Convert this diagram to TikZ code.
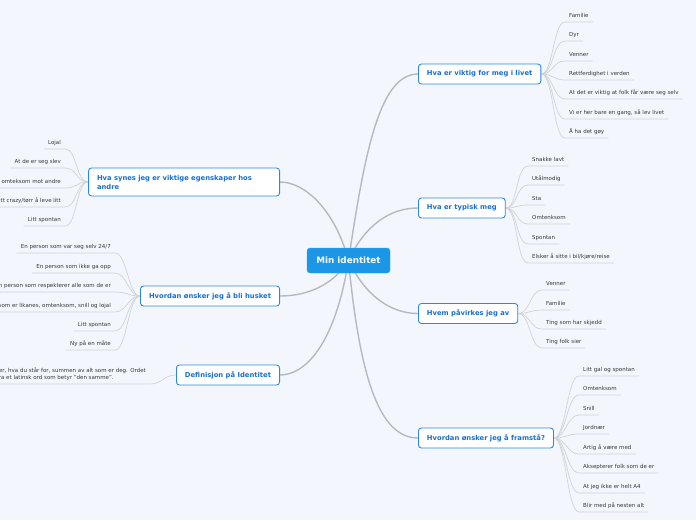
\documentclass[tikz,border=0pt]{standalone}
\usepackage{fontspec}
\setmainfont{DejaVu Sans}
\usepackage{xcolor}
\definecolor{paperbg}{HTML}{F3F6FD}
\definecolor{rootblue}{HTML}{1C96E6}
\definecolor{edgeblue}{HTML}{2C88DE}
\definecolor{topicblue}{HTML}{1A6FD0}
\definecolor{trunkgray}{HTML}{B9B9BC}
\definecolor{twiggray}{HTML}{D2D3D6}
\definecolor{leafink}{HTML}{383838}
\pgfdeclarelayer{paper}
\pgfdeclarelayer{background}
\pgfsetlayers{paper,background,main}
\tikzset{
    % Shapes
    root/.style={rectangle, rounded corners=3pt, fill=rootblue, draw=rootblue!85!white,
                 text=white, font=\bfseries\fontsize{8.8}{10}\selectfont,
                 minimum width=83pt, minimum height=25pt},
    topic/.style={rectangle, rounded corners=3pt, fill=white, draw=edgeblue, line width=0.9pt,
                  text=topicblue, font=\bfseries\fontsize{6.8}{9}\selectfont,
                  minimum height=20pt, inner xsep=8.5pt},
    leaf/.style={inner xsep=4pt, inner ysep=3pt, text height=4.2pt, text depth=1.3pt,
                 text=leafink, font=\fontsize{5.5}{7}\selectfont},
    % Flow
    trunk/.style={line width=1.4pt, trunkgray},
    twig/.style={line width=0.7pt, twiggray}
}
\begin{document}
\begin{tikzpicture}[x=1pt, y=-1pt]
\useasboundingbox (0,0) rectangle (696,520);
\begin{pgfonlayer}{paper}
\fill[paperbg] (0,0) rectangle (696,520);
\end{pgfonlayer}

\node[root] (identitet) at (348.5,260.5) {Min identitet};

% right side
\node[topic, anchor=west] (viktig) at (418,74) {Hva er viktig for meg i livet};
\node[topic, anchor=west] (typisk) at (418,208) {Hva er typisk meg};
\node[topic, anchor=west] (pavirk) at (418,313.5) {Hvem påvirkes jeg av};
\node[topic, anchor=west] (framsta) at (418,438) {Hvordan ønsker jeg å framstå?};

% left side
\node[topic, anchor=east, text width=174pt, align=left, minimum height=28pt] (egensk) at (280,182)
    {Hva synes jeg er viktige egenskaper hos\\ andre};
\node[topic, anchor=east] (husket) at (280,296) {Hvordan ønsker jeg å bli husket};
\node[topic, anchor=east] (defin) at (280,375) {Definisjon på Identitet};

\node[leaf, anchor=south west] (vik1) at (565,22) {Familie};
\node[leaf, anchor=south west] (vik2) at (565,41) {Dyr};
\node[leaf, anchor=south west] (vik3) at (565,61) {Venner};
\node[leaf, anchor=south west] (vik4) at (565,80) {Rettferdighet i verden};
\node[leaf, anchor=south west] (vik5) at (565,99) {At det er viktig at folk får være seg selv};
\node[leaf, anchor=south west] (vik6) at (565,119) {Vi er her bare en gang, så lev livet};
\node[leaf, anchor=south west] (vik7) at (565,138) {Å ha det gøy};

\node[leaf, anchor=south west] (typ1) at (528,166) {Snakke lavt};
\node[leaf, anchor=south west] (typ2) at (528,185) {Utålmodig};
\node[leaf, anchor=south west] (typ3) at (528,205) {Sta};
\node[leaf, anchor=south west] (typ4) at (528,224) {Omtenksom};
\node[leaf, anchor=south west] (typ5) at (528,244) {Spontan};
\node[leaf, anchor=south west] (typ6) at (528,263) {Elsker å sitte i bil/kjøre/reise};

\node[leaf, anchor=south west] (pav1) at (542,290) {Venner};
\node[leaf, anchor=south west] (pav2) at (542,310) {Familie};
\node[leaf, anchor=south west] (pav3) at (542,329) {Ting som har skjedd};
\node[leaf, anchor=south west] (pav4) at (542,348) {Ting folk sier};

\node[leaf, anchor=south west] (fram1) at (579,376) {Litt gal og spontan};
\node[leaf, anchor=south west] (fram2) at (579,395) {Omtenksom};
\node[leaf, anchor=south west] (fram3) at (579,415) {Snill};
\node[leaf, anchor=south west] (fram4) at (579,434) {Jordnær};
\node[leaf, anchor=south west] (fram5) at (579,454) {Artig å være med};
\node[leaf, anchor=south west] (fram6) at (579,473) {Aksepterer folk som de er};
\node[leaf, anchor=south west] (fram7) at (579,493) {At jeg ikke er helt A4};
\node[leaf, anchor=south west] (fram8) at (579,512) {Blir med på nesten alt};

\node[leaf, anchor=south east] (egn1) at (65,149) {Lojal};
\node[leaf, anchor=south east] (egn2) at (65,168) {At de er seg slev};
\node[leaf, anchor=south east] (egn3) at (65,188) {Være omteksom mot andre};
\node[leaf, anchor=south east] (egn4) at (65,207) {Litt crazy/tørr å leve litt};
\node[leaf, anchor=south east] (egn5) at (65,226) {Litt spontan};

\node[leaf, anchor=south east] (hus1) at (115,253) {En person som var seg selv 24/7};
\node[leaf, anchor=south east] (hus2) at (115,273) {En person som ikke ga opp};
\node[leaf, anchor=south east] (hus3) at (115,292) {En person som respekterer alle som de er};
\node[leaf, anchor=south east] (hus4) at (115,312) {En person som er likanes, omtenksom, snill og lojal};
\node[leaf, anchor=south east] (hus5) at (115,331) {Litt spontan};
\node[leaf, anchor=south east] (hus6) at (115,350) {Ny på en måte};

\node[leaf, anchor=south east, align=left, text height=, text depth=] (def) at (150,384)
    {Hvem du er, hva du står for, summen av alt som er deg. Ordet\\
     kommer fra et latinsk ord som betyr "den samme".};

\begin{pgfonlayer}{background}
\draw[trunk] (identitet.center) .. controls (365,150) and (380,74) .. (viktig.west);
\draw[trunk] (identitet.center) .. controls (365,225) and (390,208) .. (typisk.west);
\draw[trunk] (identitet.center) .. controls (365,295) and (390,313.5) .. (pavirk.west);
\draw[trunk] (identitet.center) .. controls (360,380) and (380,438) .. (framsta.west);
\draw[trunk] (identitet.center) .. controls (335,210) and (305,182) .. (egensk.east);
\draw[trunk] (identitet.center) .. controls (330,290) and (300,296) .. (husket.east);
\draw[trunk] (identitet.center) .. controls (335,345) and (305,375) .. (defin.east);

\foreach \i in {1,...,7}
  \draw[twig] (viktig.east) .. controls +(12,0) and +(-12,0) .. (vik\i.south west) -- (vik\i.south east);
\foreach \i in {1,...,6}
  \draw[twig] (typisk.east) .. controls +(12,0) and +(-12,0) .. (typ\i.south west) -- (typ\i.south east);
\foreach \i in {1,...,4}
  \draw[twig] (pavirk.east) .. controls +(12,0) and +(-12,0) .. (pav\i.south west) -- (pav\i.south east);
\foreach \i in {1,...,8}
  \draw[twig] (framsta.east) .. controls +(12,0) and +(-12,0) .. (fram\i.south west) -- (fram\i.south east);
\foreach \i in {1,...,5}
  \draw[twig] (egn\i.south west) -- (egn\i.south east) .. controls +(12,0) and +(-12,0) .. (egensk.west);
\foreach \i in {1,...,6}
  \draw[twig] (hus\i.south west) -- (hus\i.south east) .. controls +(12,0) and +(-12,0) .. (husket.west);
\draw[twig] (def.south west) -- (def.south east) .. controls +(12,0) and +(-12,0) .. (defin.west);
\end{pgfonlayer}

\end{tikzpicture}
\end{document}
